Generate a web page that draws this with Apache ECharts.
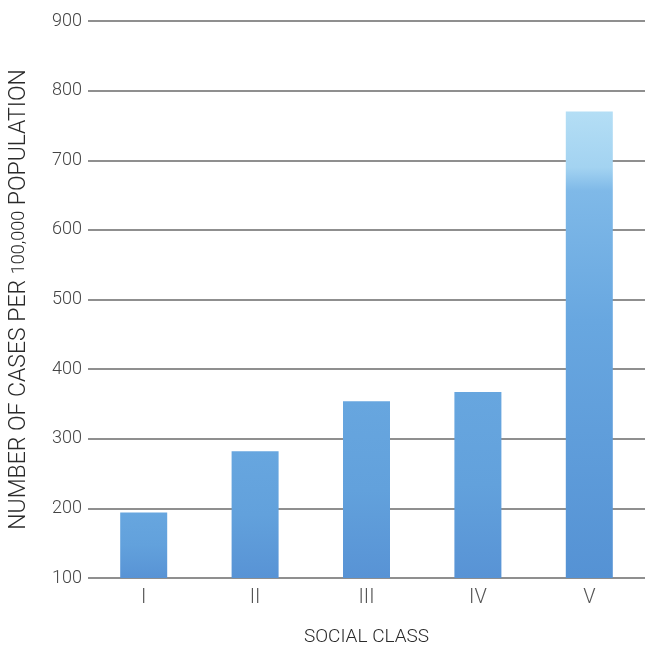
<!DOCTYPE html>
<html>
<head>
<meta charset="utf-8">
<script src="https://cdn.jsdelivr.net/npm/echarts@6/dist/echarts.min.js"></script>
<style>
  html, body { margin: 0; padding: 0; background: #fff; }
  #chart { width: 645px; height: 652px; }
</style>
</head>
<body>
<div id="chart"></div>
<script>
// Social class categories and incidence rates per 100,000 population
const socialClasses = ['I', 'II', 'III', 'IV', 'V'];
const casesPer100k = [194, 282, 354, 367, 770];
const yTicks = [100, 200, 300, 400, 500, 600, 700, 800, 900];

const FONT = 'Roboto';

const chart = echarts.init(document.getElementById('chart'), null, { renderer: 'canvas' });

const barColor = new echarts.graphic.LinearGradient(0, 0, 0, 1, [
  { offset: 0, color: '#67a6df' },
  { offset: 0.5, color: '#62a1dc' },
  { offset: 1, color: '#5893d5' }
]);
const tallBarColor = new echarts.graphic.LinearGradient(0, 0, 0, 1, [
  { offset: 0, color: '#b4def5' },
  { offset: 0.12, color: '#a3d3f1' },
  { offset: 0.17, color: '#7fb9e8' },
  { offset: 0.45, color: '#68a7e0' },
  { offset: 1, color: '#5592d4' }
]);

chart.setOption({
  animation: false,
  backgroundColor: '#ffffff',
  grid: { left: 80, right: 0, top: 21, bottom: 60 },
  xAxis: {
    type: 'category',
    data: socialClasses,
    name: 'SOCIAL CLASS',
    nameLocation: 'middle',
    nameGap: 50,
    nameTextStyle: { fontFamily: FONT, fontSize: 19, fontWeight: 300, color: '#2a2a2a' },
    axisLine: { show: false },
    axisTick: { show: false },
    axisLabel: { fontFamily: FONT, fontSize: 20, fontWeight: 300, color: '#555', margin: 10 }
  },
  yAxis: {
    type: 'value',
    min: 100,
    max: 900,
    interval: 100,
    name: '{t|NUMBER OF CASES PER }{n|100,000}{t| POPULATION}',
    nameLocation: 'middle',
    nameGap: 57,
    nameRotate: 90,
    nameTextStyle: {
      fontFamily: FONT, fontWeight: 300, color: '#2a2a2a',
      rich: {
        t: { fontFamily: FONT, fontSize: 23, fontWeight: 300, color: '#2a2a2a' },
        n: { fontFamily: FONT, fontSize: 18, fontWeight: 300, color: '#2a2a2a' }
      }
    },
    axisLine: { show: false },
    axisTick: { show: false },
    axisLabel: {
      fontFamily: FONT, fontSize: 18, fontWeight: 300, color: '#444', margin: 6,
      formatter: v => (yTicks.includes(v) ? String(v) : '')
    },
    splitLine: { show: true, lineStyle: { color: '#6a6a6a', width: 1.6 } }
  },
  series: [{
    type: 'bar',
    data: casesPer100k.map((v, i) => ({
      value: v,
      itemStyle: { color: i === casesPer100k.length - 1 ? tallBarColor : barColor }
    })),
    barWidth: 47
  }]
});
</script>
</body>
</html>
